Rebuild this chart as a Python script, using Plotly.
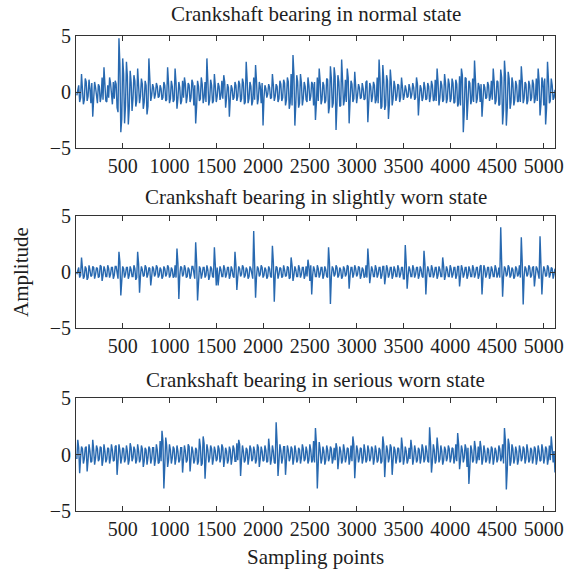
import plotly.graph_objects as go

# Readings of each signal on two interleaved sample grids:
# "_odd" values at sampling points 10, 30, 50, ...; "_even" values at 20, 40, 60, ...
normal_state_even = [
    0.4, -0.9, 1.6, -1.1, 1.2, -0.8, 1.1, -1.0, -2.2, 0.9, -0.6, 0.7, -0.9, 1.3, 2.2, -0.8, 0.6, 1.3, -0.7, 0.9, 1.0, -1.4, 4.8, -3.6, 3.0,
    -2.8, 2.7, -2.9, 1.9, -1.7, 1.5, -1.3, 2.1, -1.0, 1.2, -1.5, 1.0, -2.0, 3.0, -0.8, 0.7, -0.6, 0.8, -0.5, 0.6, -0.7, 0.9, -0.8, 2.2, -1.0,
    1.0, -0.9, 2.1, -1.5, 0.9, -1.1, 1.0, 1.3, -1.0, 0.8, -0.9, 1.1, -1.2, -2.8, 1.0, -0.8, 1.3, -1.0, 0.9, 3.0, -1.2, 1.1, -1.0, 1.6, -0.9,
    0.8, -0.7, 1.0, 1.5, -1.4, 0.7, -2.2, 0.6, -0.7, 0.9, -0.8, 1.0, -0.9, 1.2, -1.1, 2.7, -1.0, 0.9, -1.2, 1.3, 2.4, -1.1, 0.9, -1.0, -3.0,
    0.6, -0.5, 0.7, -0.6, 1.6, -0.8, 0.7, -0.9, 1.0, -0.8, 1.1, -1.2, 1.3, -1.5, 1.6, 3.3, -3.0, 1.5, -1.4, 1.6, -1.2, 0.9, -0.7, 1.3, -0.8,
    0.9, -1.2, -2.5, 1.3, 2.1, -1.1, 0.9, -1.0, 1.2, -1.9, 2.3, -1.4, 2.2, -3.4, 1.5, -1.3, 2.9, -1.2, 1.1, 2.1, -2.8, 1.0, -0.9, 1.8, -1.0,
    0.7, -0.6, 0.8, -0.7, 0.9, -2.7, 0.8, -0.9, 0.9, -1.0, 1.3, 2.9, -1.5, 2.4, -1.6, 1.5, -2.4, 2.0, -1.2, 1.0, -0.8, 0.7, -0.9, 1.3, -0.7,
    0.6, -0.5, 0.7, -0.6, 0.8, -0.7, 1.3, -2.1, 0.6, -0.8, 0.9, -0.7, 0.8, -0.9, 1.0, -0.8, 1.1, 2.1, -1.2, 1.0, -0.9, 1.6, -1.0, 1.2, -0.9,
    1.2, -1.0, 1.1, -1.3, 1.4, 2.1, -3.6, 1.3, -2.5, 1.0, -1.1, 1.2, 2.8, -1.0, 0.8, -0.9, -2.2, 0.7, -0.6, 0.9, -0.8, 1.0, 2.1, -1.1, 1.0,
    -1.2, 2.0, -2.9, 2.8, -3.0, 1.8, -1.5, 1.3, -1.2, 1.0, -0.9, 1.1, 2.3, -1.0, 0.9, -1.1, 1.0, -0.8, 1.1, -1.0, 1.2, 2.1, -2.1, 1.3, -1.2,
    -2.9, 2.7, -1.0, 1.2, -0.7, 0.2,
]
normal_state_odd = [
    -0.3, 0.6, -0.5, 0.2, -0.7, 0.9, -0.4, 0.3, 0.8, -0.6, 0.4, -1.0, 0.5, -0.4, -0.7, 1.1, -0.9, -0.5, 0.8, -1.1, -0.6, 0.7, -1.8, 2.5, -2.4,
    1.6, -1.2, 1.4, -1.5, 0.9, -0.6, 1.0, -0.8, 0.9, -0.4, 0.7, -0.9, 0.6, -1.3, 1.2, -0.3, 0.4, -0.2, 0.5, -0.4, 0.3, -0.5, 0.6, -0.7, 0.8,
    -0.6, 0.5, -0.7, 0.8, -0.6, 0.4, -0.8, -0.5, 0.7, -0.4, 0.6, -0.5, 0.8, 0.6, -1.3, 0.5, -0.6, 0.7, -0.5, -0.9, 1.0, -0.7, 0.6, -0.8, 0.5,
    -0.4, 0.5, -0.3, -0.6, 0.9, -0.5, 0.4, -0.6, 0.3, -0.5, 0.6, -0.4, 0.7, -0.6, 0.8, -0.9, 1.1, -0.6, 0.5, -0.8, -0.7, 1.0, -0.6, 0.5, 0.8,
    -0.5, 0.3, -0.2, 0.4, -0.5, 0.6, -0.4, 0.5, -0.6, 0.7, -0.5, 0.8, -0.7, 0.9, -1.0, -1.2, 1.6, -1.1, 0.9, -1.0, 0.8, -0.6, 0.5, -0.9, 0.6,
    -0.4, 0.7, 0.9, -1.0, -0.8, 1.0, -0.7, 0.6, -0.8, 1.1, -1.3, 1.2, -1.0, 1.4, -1.1, 0.9, -1.2, 1.0, -0.7, -0.9, 1.3, -0.8, 0.7, -0.6, 0.5,
    -0.3, 0.4, -0.5, 0.3, -0.6, 1.0, -0.9, 0.5, -0.4, 0.6, -0.7, -1.0, 1.2, -1.3, 1.1, -1.2, 1.0, -1.1, 0.9, -0.6, 0.5, -0.4, 0.6, -0.5, 0.4,
    -0.3, 0.2, -0.4, 0.3, -0.2, 0.4, -0.5, 0.7, -0.6, 0.3, -0.5, 0.4, -0.6, 0.5, -0.4, 0.6, -0.7, -0.8, 0.9, -0.5, 0.6, -0.7, 0.8, -0.6, 0.7,
    -0.6, 0.8, -0.9, 0.7, -1.0, -1.2, 1.5, -1.8, 1.2, -0.9, 0.8, -0.7, -0.9, 1.1, -0.6, 0.5, 0.7, -0.8, 0.4, -0.5, 0.6, -0.4, -0.7, 0.9, -0.8,
    0.9, -1.1, 1.3, -1.6, 1.5, -1.4, 1.2, -0.9, 0.8, -0.7, 0.6, -0.8, -0.9, 1.0, -0.6, 0.7, -0.8, 0.6, -0.5, 0.7, -0.6, -0.8, 1.0, -1.1, 0.9,
    1.2, -1.4, 1.1, -0.8, 0.6, -0.5,
]

slightly_worn_even = [
    0.3, -0.5, 1.3, -0.6, 0.5, -0.7, 0.6, -0.4, 0.5, -0.6, 0.4, -0.5, 0.6, -0.8, 0.5, -0.4, 0.6, -0.5, 0.4, -0.6, 0.5, -0.4, 1.8, -2.1, 0.5,
    -0.5, 0.4, -0.6, 0.5, -0.4, 0.6, -0.7, 1.8, -1.85, 0.5, -0.4, 0.6, -0.5, 0.4, -1.2, 0.5, -0.4, 0.6, -0.5, 0.4, -0.6, 0.5, -0.4, 0.6, -0.5,
    0.4, -0.5, 0.6, 2.1, -2.4, 0.5, -0.4, 0.6, -0.5, 0.4, -0.6, 0.5, -0.4, 2.65, -2.55, 0.5, -0.6, 0.4, -0.5, 0.6, -0.7, 0.5, -0.4, 2.2, -1.2,
    -1.2, 0.5, -0.4, 0.6, -0.5, 0.4, -0.6, 0.5, -0.4, 1.8, -1.6, 0.5, -0.4, 0.6, -0.5, 0.4, -0.6, 0.5, -0.4, 3.65, -2.3, 0.5, -0.4, 0.6, -0.5,
    0.4, -0.6, 0.5, -0.4, 2.35, -2.65, 0.5, -0.6, 0.4, -0.5, 0.6, -0.4, 0.5, -0.6, 1.3, -0.8, 0.5, -0.4, 0.6, -0.5, 0.4, -0.6, 0.5, 1.1, -0.8,
    -2.0, 0.5, -0.4, 0.6, -0.5, 0.4, -0.6, 0.5, -0.4, 2.2, -2.85, 0.5, -0.4, 0.6, -0.5, 0.4, -0.6, 0.5, -0.4, 0.6, -1.5, 0.4, -0.5, 0.6, -0.4,
    0.5, -0.6, 0.4, -0.5, 0.6, 2.1, -1.0, 0.5, -0.4, 0.6, -0.5, 0.4, -0.6, 0.5, -1.1, 0.6, -0.5, 0.4, -0.6, 0.5, -0.4, 0.6, -0.5, 0.4, -0.6,
    2.4, -1.5, 0.5, -0.4, 0.6, -0.5, 0.4, -0.6, 0.5, -0.4, 1.9, -2.0, 0.5, -0.4, 0.6, -0.5, 0.4, -0.6, 0.5, -0.4, 1.3, -0.7, 0.5, -0.4, 0.6,
    -0.5, 0.4, -0.6, 0.5, -1.3, 0.6, -0.5, 0.4, -0.6, 0.5, -0.4, 0.6, -0.5, 0.4, -0.6, 0.5, -2.0, 0.6, -0.5, 0.4, -0.6, 0.5, -0.4, 0.6, -0.5,
    0.4, 4.0, -2.2, 0.5, -0.4, 0.6, -0.5, 0.4, -0.6, 0.5, -0.4, 0.6, 3.1, -2.9, 0.5, -0.4, 0.6, -0.5, 0.4, -1.3, 0.5, -0.4, 3.2, -2.0, 0.5,
    -0.4, 0.6, -0.5, 0.4, -0.6, 0.3,
]
slightly_worn_odd = [
    -0.2, 0.4, -0.3, 0.5, -0.4, 0.3, -0.5, 0.2, -0.3, 0.4, -0.2, 0.3, -0.4, 0.5, -0.3, 0.2, -0.4, 0.3, -0.2, 0.4, -0.3, 0.5, -0.6, 0.9, -0.4,
    0.3, -0.2, 0.4, -0.3, 0.2, -0.4, 0.3, -0.5, 0.7, -0.3, 0.2, -0.3, 0.4, -0.2, 0.3, -0.4, 0.3, -0.2, 0.4, -0.3, 0.2, -0.4, 0.3, -0.2, 0.4,
    -0.3, 0.2, -0.4, -0.5, 0.8, -0.3, 0.4, -0.2, 0.3, -0.4, 0.2, -0.3, 0.5, -0.6, 0.9, -0.4, 0.3, -0.2, 0.4, -0.3, 0.2, -0.4, 0.3, -0.5, 0.6,
    0.4, -0.3, 0.2, -0.4, 0.3, -0.2, 0.4, -0.3, 0.2, -0.5, 0.6, -0.4, 0.3, -0.2, 0.4, -0.3, 0.2, -0.4, 0.3, -0.6, 1.0, -0.4, 0.3, -0.2, 0.4,
    -0.3, 0.2, -0.4, 0.3, -0.5, 0.9, -0.3, 0.4, -0.2, 0.3, -0.4, 0.2, -0.3, 0.4, -0.5, 0.6, -0.3, 0.2, -0.4, 0.3, -0.2, 0.4, -0.3, -0.4, 0.5,
    0.6, -0.3, 0.2, -0.4, 0.3, -0.2, 0.4, -0.3, 0.2, -0.5, 0.8, -0.4, 0.3, -0.2, 0.4, -0.3, 0.2, -0.4, 0.3, -0.2, 0.5, -0.3, 0.4, -0.2, 0.3,
    -0.2, 0.4, -0.3, 0.2, -0.4, -0.5, 0.7, -0.3, 0.2, -0.4, 0.3, -0.2, 0.4, -0.3, 0.5, -0.4, 0.3, -0.2, 0.4, -0.3, 0.2, -0.4, 0.3, -0.2, 0.4,
    -0.6, 0.8, -0.3, 0.2, -0.4, 0.3, -0.2, 0.4, -0.3, 0.2, -0.5, 0.7, -0.3, 0.2, -0.4, 0.3, -0.2, 0.4, -0.3, 0.2, -0.4, 0.5, -0.3, 0.2, -0.4,
    0.3, -0.2, 0.4, -0.3, 0.5, -0.4, 0.3, -0.2, 0.4, -0.3, 0.2, -0.4, 0.3, -0.2, 0.4, -0.3, 0.6, -0.5, 0.3, -0.2, 0.4, -0.3, 0.2, -0.4, 0.3,
    -0.2, -0.5, 0.9, -0.4, 0.3, -0.2, 0.4, -0.3, 0.2, -0.4, 0.3, -0.2, -0.5, 0.8, -0.4, 0.3, -0.2, 0.4, -0.3, 0.5, -0.4, 0.3, -0.6, 0.9, -0.3,
    0.2, -0.3, 0.4, -0.2, 0.3, -0.2,
]

serious_worn_even = [
    1.3, -1.65, 0.7, -0.8, 0.6, -1.5, 0.9, -0.7, 1.3, -0.9, 0.8, -0.6, 0.7, -1.0, 0.9, -0.7, 0.6, -0.8, 0.9, -0.6, 0.7, -1.8, 0.9, -0.8, 0.6,
    -0.7, 0.8, -0.9, 1.0, -0.6, 0.7, -0.8, 0.9, -0.7, 0.8, -1.1, 0.6, -0.9, 0.7, -0.8, 0.6, -1.0, 0.9, -0.8, 1.2, 2.1, -3.0, 1.5, -1.1, 0.9,
    -0.8, 0.7, -0.9, 0.8, -0.7, 0.6, -1.6, 0.8, -0.7, 0.9, -1.5, 0.7, -0.8, 0.6, -0.9, 1.4, -1.0, 1.6, -2.15, 0.9, -0.7, 0.8, -0.9, 0.7, -0.6,
    0.8, -0.7, 0.9, -1.1, 0.6, -0.8, 0.7, -0.9, 0.8, -0.6, 1.0, 1.3, -1.9, 0.8, -0.7, 0.6, -0.9, 0.8, -0.6, 0.7, -0.8, 0.9, -1.1, 0.7, -0.6,
    0.8, -0.7, 1.4, -0.9, 0.8, -0.7, 2.85, -1.9, 0.9, -0.8, 0.7, -1.8, 0.8, -0.6, 0.7, -0.9, 0.8, -0.7, 0.6, -0.8, 0.9, -0.6, 0.7, -0.8, 0.9,
    -0.7, 1.2, 2.35, -3.0, 1.1, -0.8, 0.7, -0.9, 0.8, -0.6, 0.7, -0.8, 0.6, 1.0, -1.3, 0.7, -0.8, 0.9, -0.7, 0.6, -0.9, 0.8, 1.6, -2.1, 0.8,
    -0.7, 0.6, -0.8, 0.9, -0.7, 0.8, -0.6, 0.7, -0.9, 0.8, -0.7, 0.6, -0.8, 1.6, -2.0, 0.8, -0.7, 0.9, -1.8, 0.7, -0.8, 0.6, -0.7, 1.5, -0.9,
    0.7, -0.8, 0.6, 1.3, -0.9, 0.8, -0.7, 0.6, -0.8, 0.9, -0.7, 0.8, -0.6, 2.4, -1.6, 0.9, -0.8, 1.5, -0.7, 0.8, -0.9, 0.7, -0.6, 0.8, -0.7,
    0.6, -0.8, 0.9, 1.9, -1.3, 0.8, -0.7, 0.9, -1.1, -2.6, 0.8, -0.7, 1.2, -0.8, 0.7, 1.2, -0.9, 0.8, -0.7, 0.6, -0.8, 0.7, -0.9, 0.6, -0.7,
    0.8, -0.6, 0.9, 2.35, -3.1, 1.4, -1.0, 0.9, -0.8, 0.7, -0.9, 0.8, -0.6, 0.7, -0.8, 0.9, -0.7, 0.6, -0.8, 0.7, -0.9, 0.8, -0.6, 0.9, -0.8,
    0.7, -0.9, 0.8, 1.6, -0.7, -1.6,
]
serious_worn_odd = [
    -0.4, 0.6, -0.3, 0.5, -0.4, 0.7, -0.5, 0.3, -0.6, 0.4, -0.3, 0.5, -0.4, 0.6, -0.5, 0.3, -0.4, 0.5, -0.3, 0.4, -0.5, 0.8, -0.6, 0.4, -0.3,
    0.5, -0.4, 0.3, -0.5, 0.6, -0.3, 0.4, -0.5, 0.3, -0.4, 0.5, -0.6, 0.4, -0.3, 0.5, -0.4, 0.6, -0.5, 0.4, -0.7, -0.6, 1.2, -1.0, 0.8, -0.5,
    0.4, -0.3, 0.5, -0.4, 0.3, -0.5, 0.6, -0.4, 0.3, -0.5, 0.7, -0.4, 0.3, -0.5, 0.4, -0.6, 0.7, -0.8, 1.0, -0.5, 0.4, -0.3, 0.5, -0.4, 0.3,
    -0.4, 0.5, -0.3, 0.6, -0.4, 0.3, -0.5, 0.4, -0.3, 0.5, -0.6, -0.5, 0.9, -0.4, 0.3, -0.5, 0.4, -0.3, 0.5, -0.4, 0.3, -0.5, 0.6, -0.4, 0.3,
    -0.5, 0.4, -0.6, 0.5, -0.4, 0.3, -0.8, 1.1, -0.6, 0.4, -0.3, 0.7, -0.5, 0.4, -0.3, 0.5, -0.4, 0.3, -0.5, 0.4, -0.3, 0.5, -0.4, 0.3, -0.5,
    0.4, -0.5, -0.7, 1.0, -0.8, 0.5, -0.4, 0.3, -0.5, 0.4, -0.3, 0.5, -0.4, -0.5, 0.6, -0.4, 0.3, -0.5, 0.4, -0.3, 0.5, -0.4, -0.6, 0.9, -0.5,
    0.4, -0.3, 0.5, -0.4, 0.3, -0.5, 0.4, -0.3, 0.5, -0.4, 0.3, -0.5, 0.4, -0.6, 0.9, -0.5, 0.4, -0.3, 0.6, -0.5, 0.4, -0.3, 0.5, -0.6, 0.7,
    -0.4, 0.3, -0.5, -0.4, 0.6, -0.4, 0.3, -0.5, 0.4, -0.3, 0.5, -0.4, 0.3, -0.7, 1.0, -0.6, 0.4, -0.5, 0.6, -0.4, 0.3, -0.5, 0.4, -0.3, 0.5,
    -0.3, 0.5, -0.4, -0.6, 0.9, -0.5, 0.4, -0.3, 0.5, 0.6, -1.1, 0.4, -0.5, 0.6, -0.4, -0.5, 0.6, -0.4, 0.3, -0.5, 0.4, -0.3, 0.5, -0.4, 0.3,
    -0.4, 0.5, -0.3, -0.8, 1.2, -1.3, 0.9, -0.6, 0.5, -0.4, 0.3, -0.5, 0.4, -0.3, 0.5, -0.4, 0.3, -0.5, 0.4, -0.3, 0.5, -0.4, 0.3, -0.5, 0.4,
    -0.3, 0.5, -0.4, -0.5, 0.6, 0.3,
]

titles = [
    "Crankshaft bearing in normal state",
    "Crankshaft bearing in slightly worn state",
    "Crankshaft bearing in serious worn state",
]
x_ticks = [500, 1000, 1500, 2000, 2500, 3000, 3500, 4000, 4500, 5000]
y_ticks = [-5, 0, 5]
y_tick_labels = ["\u22125", "0", "5"]
x_label = "Sampling points"
y_label = "Amplitude"
sample_step = 20


def merge(odd_vals, even_vals):
    xs, ys = [], []
    for i, (a, b) in enumerate(zip(odd_vals, even_vals)):
        xs += [sample_step * i + sample_step // 2, sample_step * (i + 1)]
        ys += [a, b]
    return xs, ys


series = [
    merge(normal_state_odd, normal_state_even),
    merge(slightly_worn_odd, slightly_worn_even),
    merge(serious_worn_odd, serious_worn_even),
]

FONT = "Liberation Serif"
TEXT_COLOR = "#1e1e1e"
LINE_COLOR = "#2869b0"
AXIS_COLOR = "#333333"

W, H = 573, 572
ML, MR, MT, MB = 76, 9, 36, 61
plot_h = H - MT - MB


def fy(px):
    return (H - MB - px) / plot_h


domains = [
    [fy(148), fy(36)],
    [fy(328), fy(216)],
    [fy(511), fy(398)],
]
title_y = [fy(14), fy(197), fy(380)]

fig = go.Figure()
layout = dict(
    width=W, height=H,
    margin=dict(l=ML, r=MR, t=MT, b=MB),
    paper_bgcolor="white", plot_bgcolor="white",
    showlegend=False,
    font=dict(family=FONT, size=20, color=TEXT_COLOR),
)

for k, (xs, ys) in enumerate(series):
    suffix = "" if k == 0 else str(k + 1)
    fig.add_trace(go.Scatter(
        x=xs, y=ys, mode="lines",
        line=dict(color=LINE_COLOR, width=1.4),
        xaxis="x" + suffix, yaxis="y" + suffix, hoverinfo="skip",
    ))
    layout["xaxis" + suffix] = dict(
        domain=[0, 1], anchor="y" + suffix, range=[1, 5120],
        tickvals=x_ticks, ticks="inside", ticklen=5, tickwidth=1,
        tickcolor=AXIS_COLOR, showline=True, linecolor=AXIS_COLOR,
        linewidth=1, mirror="ticks", showgrid=False, zeroline=False,
        tickfont=dict(family=FONT, size=20, color=TEXT_COLOR),
    )
    layout["yaxis" + suffix] = dict(
        domain=domains[k], anchor="x" + suffix, range=[-5, 5],
        tickvals=y_ticks, ticktext=y_tick_labels, ticks="inside",
        ticklen=5, tickwidth=1, tickcolor=AXIS_COLOR, showline=True,
        linecolor=AXIS_COLOR, linewidth=1, mirror="ticks",
        showgrid=False, zeroline=False,
        tickfont=dict(family=FONT, size=20, color=TEXT_COLOR),
    )

annotations = []
for k, t in enumerate(titles):
    annotations.append(dict(
        text=t, x=0.5, y=title_y[k], xref="paper", yref="paper",
        xanchor="center", yanchor="middle", showarrow=False,
        font=dict(family=FONT, size=21, color=TEXT_COLOR),
    ))
annotations.append(dict(
    text=y_label, x=(20 - ML) / (W - ML - MR), y=fy(272),
    xref="paper", yref="paper", xanchor="center", yanchor="middle",
    textangle=-90, showarrow=False,
    font=dict(family=FONT, size=21, color=TEXT_COLOR),
))
annotations.append(dict(
    text=x_label, x=0.5, y=fy(557), xref="paper", yref="paper",
    xanchor="center", yanchor="middle", showarrow=False,
    font=dict(family=FONT, size=21, color=TEXT_COLOR),
))
layout["annotations"] = annotations
fig.update_layout(**layout)

fig.write_html("out.html")
